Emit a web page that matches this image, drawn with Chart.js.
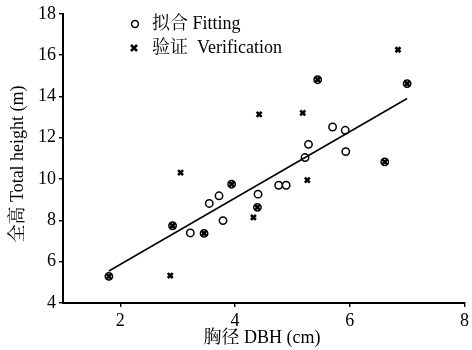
<!DOCTYPE html>
<html><head><meta charset="utf-8">
<script src="https://cdn.jsdelivr.net/npm/chart.js@4/dist/chart.umd.min.js"></script>
<style>html,body{margin:0;padding:0;background:#fff}#wrap{width:472px;height:350px;position:relative}</style>
</head><body><div id="wrap"><canvas id="c" width="472" height="350"></canvas></div>
<script>
// Fitting data (open circles)
const fitDBH    = [1.80, 2.91, 3.22, 3.46, 3.55, 3.72, 3.79, 3.94, 4.40, 4.39, 4.76, 4.89, 5.22, 5.28, 5.44, 5.70, 5.92, 5.93, 6.61, 7.00];
const fitHeight = [5.29, 7.74, 7.39, 7.37, 8.82, 9.19, 7.99, 9.75, 9.27, 8.63, 9.70, 9.70, 11.04, 11.68, 14.81, 12.52, 12.36, 11.33, 10.83, 14.62];
// Verification data (crosses)
const verDBH    = [1.80, 2.87, 2.91, 3.05, 3.46, 3.94, 4.32, 4.39, 4.42, 5.18, 5.26, 5.44, 6.61, 6.84, 7.00];
const verHeight = [5.29, 5.33, 7.74, 10.31, 7.37, 9.75, 8.14, 8.63, 13.13, 13.20, 9.95, 14.81, 10.83, 16.26, 14.62];
// Fitted line end points
const lineDBH    = [1.80, 7.00];
const lineHeight = [5.55, 13.90];
// Ticks and text
const xTicks = [2, 4, 6, 8];
const yTicks = [4, 6, 8, 10, 12, 14, 16, 18];
const legendLabels = ['拟合 Fitting', '验证  Verification'];
const xTitle = '胸径 DBH (cm)';
const yTitle = '全高 Total height (m)';

const FONT = '"Liberation Serif","Noto Serif CJK SC","Noto Sans CJK SC",serif';
Chart.defaults.font.family = FONT;
Chart.defaults.color = '#000';

const toPts = (xs, ys) => xs.map((x, i) => ({x: x, y: ys[i]}));

const textPlugin = {
  id: 'texts',
  afterDraw(chart) {
    const ctx = chart.ctx;
    ctx.save();
    ctx.fillStyle = '#000';
    ctx.strokeStyle = '#000';
    // legend
    ctx.font = '18px ' + FONT;
    ctx.textBaseline = 'middle';
    ctx.textAlign = 'left';
    const ly = [24, 48];
    // circle marker
    ctx.lineWidth = 1.5;
    ctx.beginPath(); ctx.arc(135, ly[0], 3.4, 0, Math.PI * 2); ctx.stroke();
    // cross marker
    ctx.lineWidth = 2.5;
    const r = 3, cx = 134;
    ctx.beginPath();
    ctx.moveTo(cx - r, ly[1] - r); ctx.lineTo(cx + r, ly[1] + r);
    ctx.moveTo(cx + r, ly[1] - r); ctx.lineTo(cx - r, ly[1] + r);
    ctx.stroke();
    ctx.fillText(legendLabels[0], 152, ly[0]);
    ctx.fillText(legendLabels[1], 152, ly[1]);
    // axis titles
    ctx.textAlign = 'center';
    ctx.fillText(xTitle, 262, 338);
    ctx.translate(18, 164);
    ctx.rotate(-Math.PI / 2);
    ctx.fillText(yTitle, 0, 0);
    ctx.restore();
  }
};

new Chart(document.getElementById('c'), {
  type: 'scatter',
  data: {
    datasets: [
      {
        label: legendLabels[0],
        data: toPts(fitDBH, fitHeight),
        pointStyle: 'circle',
        pointRadius: 3.7,
        pointBorderWidth: 1.5,
        borderColor: '#000',
        backgroundColor: 'rgba(0,0,0,0)',
        pointHoverRadius: 3.7
      },
      {
        label: legendLabels[1],
        data: toPts(verDBH, verHeight),
        pointStyle: 'crossRot',
        pointRadius: 3.5,
        pointBorderWidth: 2.6,
        borderColor: '#000',
        backgroundColor: '#000'
      },
      {
        type: 'line',
        label: 'fit',
        data: toPts(lineDBH, lineHeight),
        borderColor: '#000',
        borderWidth: 1.5,
        pointRadius: 0,
        fill: false
      }
    ]
  },
  options: {
    responsive: false,
    animation: false,
    devicePixelRatio: 1,
    layout: {padding: {top: 12, right: 5, left: 0, bottom: 0}},
    plugins: {legend: {display: false}, tooltip: {enabled: false}},
    scales: {
      x: {
        type: 'linear',
        min: 1, max: 8,
        afterBuildTicks: s => { s.ticks = xTicks.map(v => ({value: v})); },
        afterFit: s => { s.height = 47; },
        grid: {display: true, drawOnChartArea: false, drawTicks: true, tickLength: 4, color: '#000', lineWidth: 1.4},
        border: {display: true, color: '#000', width: 2},
        ticks: {font: {size: 18}, padding: 3, color: '#000', maxRotation: 0}
      },
      y: {
        type: 'linear',
        min: 4, max: 18,
        afterBuildTicks: s => { s.ticks = yTicks.map(v => ({value: v})); },
        afterFit: s => { s.width = 63; },
        grid: {display: true, drawOnChartArea: false, drawTicks: true, tickLength: 4, color: '#000', lineWidth: 1.4},
        border: {display: true, color: '#000', width: 2},
        ticks: {font: {size: 18}, padding: 3, color: '#000'}
      }
    }
  },
  plugins: [textPlugin]
});
</script>
</body></html>
